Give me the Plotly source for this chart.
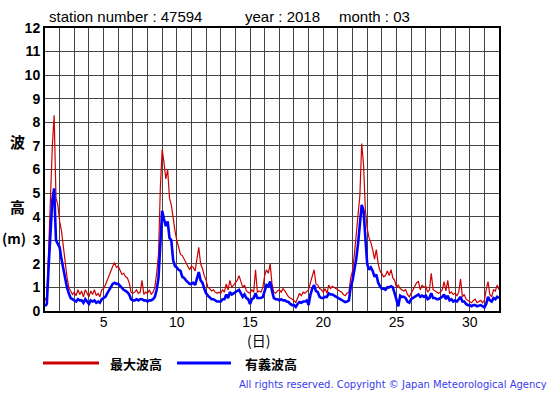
import plotly.graph_objects as go

# 3-hourly samples, day 1 00h .. day 32 00h (8 per day)
steps_per_day = 8

max_wave = [
    0.45, 0.6, 2.6, 4.9, 7.0, 8.3, 4.8, 4.5,      # day 1
    3.8, 3.4, 2.7, 2.1, 1.45, 1.0, 0.85, 0.7,      # day 2
    0.8, 0.65, 0.9, 0.7, 0.85, 0.6, 0.9, 0.75,     # day 3
    0.6, 0.85, 0.7, 0.9, 0.65, 0.75, 0.6, 0.9,     # day 4
    0.95, 1.1, 1.3, 1.5, 1.75, 1.9, 2.05, 1.85,    # day 5
    1.9, 1.7, 1.55, 1.6, 1.45, 1.4, 1.2, 0.8,      # day 6
    0.75, 0.8, 0.9, 0.75, 0.8, 1.3, 0.7, 0.8,      # day 7
    0.75, 0.9, 0.7, 0.8, 1.0, 1.6, 2.4, 5.2,       # day 8
    6.85, 6.3, 5.6, 6.0, 4.8, 4.5, 3.85, 3.4,      # day 9
    3.0, 2.7, 2.4, 2.35, 2.2, 2.0, 1.85, 1.75,     # day 10
    1.9, 1.85, 1.7, 2.2, 2.7, 2.0, 1.8, 1.5,       # day 11
    1.3, 1.0, 0.95, 0.85, 0.9, 0.8, 0.75, 0.8,     # day 12
    0.75, 0.9, 0.8, 1.15, 0.9, 1.3, 1.0, 1.1,      # day 13
    1.2, 1.3, 1.5, 1.2, 1.0, 1.1, 0.85, 0.8,       # day 14
    0.75, 0.9, 0.8, 1.75, 0.8, 0.85, 0.8, 1.0,     # day 15
    1.5, 1.75, 1.6, 2.0, 1.15, 0.8, 0.75, 0.85,    # day 16
    0.9, 0.8, 0.95, 0.85, 0.7, 0.6, 0.55, 0.5,     # day 17
    0.45, 0.35, 0.55, 0.75, 0.65, 0.8, 0.75, 0.85, # day 18
    0.9, 1.2, 1.45, 1.75, 1.15, 1.1, 0.95, 0.9,    # day 19
    0.8, 0.95, 0.75, 1.1, 0.95, 1.05, 1.0, 0.95,   # day 20
    0.9, 0.85, 0.8, 0.7, 0.65, 0.75, 0.8, 1.4,     # day 21
    1.7, 2.4, 3.2, 3.9, 4.9, 7.1, 6.2, 4.3,        # day 22
    3.5, 3.1, 2.9, 2.6, 2.2, 2.6, 2.0, 1.7,        # day 23
    1.6, 1.45, 1.5, 1.7, 1.5, 1.75, 1.4, 1.3,      # day 24
    1.0, 1.1, 0.95, 0.9, 0.85, 0.9, 0.7, 0.6,      # day 25
    0.75, 0.9, 1.0, 1.2, 1.25, 0.9, 1.1, 1.0,      # day 26
    1.05, 0.8, 0.9, 1.6, 0.9, 0.85, 0.8, 0.75,     # day 27
    0.8, 0.9, 1.25, 0.85, 1.3, 0.75, 0.8, 0.7,     # day 28
    0.75, 0.65, 0.8, 1.35, 0.6, 0.7, 0.5, 0.45,    # day 29
    0.4, 0.35, 0.45, 0.5, 0.35, 0.4, 0.45, 0.35,   # day 30
    0.45, 0.9, 1.25, 0.7, 0.6, 0.9, 0.85, 1.1,     # day 31
    0.9,                                           # day 32 00h
]

sig_wave = [
    0.2, 0.3, 1.9, 3.6, 4.7, 5.2, 3.0, 2.85,
    2.7, 2.2, 1.8, 1.3, 1.0, 0.75, 0.55, 0.5,
    0.45, 0.4, 0.5, 0.45, 0.45, 0.35, 0.5, 0.4,
    0.3, 0.45, 0.4, 0.45, 0.35, 0.4, 0.35, 0.5,
    0.55, 0.6, 0.75, 0.9, 1.05, 1.15, 1.2, 1.15,
    1.15, 1.05, 1.0, 0.9, 0.85, 0.8, 0.7, 0.5,
    0.45, 0.45, 0.5, 0.45, 0.5, 0.5, 0.45, 0.45,
    0.4, 0.45, 0.45, 0.5, 0.6, 0.9, 1.4, 3.1,
    4.25, 3.9, 3.6, 3.8, 3.1, 3.0, 2.15, 1.9,
    1.85, 1.75, 1.7, 1.45, 1.4, 1.3, 1.2, 1.15,
    1.15, 1.2, 1.1, 1.4, 1.65, 1.3, 1.2, 0.95,
    0.75, 0.65, 0.55, 0.5, 0.5, 0.45, 0.4, 0.4,
    0.4, 0.5, 0.5, 0.7, 0.55, 0.8, 0.7, 0.75,
    0.8, 0.85, 0.9, 0.75, 0.6, 0.7, 0.55, 0.5,
    0.3, 0.5, 0.55, 0.75, 0.55, 0.55, 0.55, 0.6,
    0.9, 1.1, 1.05, 1.25, 0.85, 0.55, 0.5, 0.5,
    0.45, 0.5, 0.45, 0.45, 0.4, 0.38, 0.3, 0.25,
    0.25, 0.17, 0.3, 0.38, 0.35, 0.4, 0.4, 0.45,
    0.25, 0.7, 0.95, 1.1, 0.85, 0.8, 0.6, 0.55,
    0.55, 0.6, 0.6, 0.75, 0.7, 0.7, 0.65, 0.6,
    0.55, 0.5, 0.45, 0.4, 0.38, 0.4, 0.45, 1.0,
    1.3, 1.75, 2.2, 2.85, 3.6, 4.5, 4.25, 3.0,
    2.0, 1.75, 1.85, 1.7, 1.45, 1.55, 1.2, 1.05,
    0.95, 0.95, 0.9, 1.0, 1.0, 1.05, 1.0, 0.75,
    0.45, 0.2, 0.65, 0.6, 0.6, 0.55, 0.4, 0.35,
    0.5, 0.55, 0.6, 0.65, 0.7, 0.6, 0.65, 0.6,
    0.65, 0.5, 0.55, 0.75, 0.55, 0.55, 0.5, 0.5,
    0.55, 0.6, 0.7, 0.5, 0.65, 0.45, 0.5, 0.4,
    0.45, 0.4, 0.5, 0.6, 0.4, 0.4, 0.3, 0.25,
    0.25, 0.2, 0.25, 0.25, 0.2, 0.22, 0.25, 0.2,
    0.15, 0.3, 0.6, 0.45, 0.4, 0.55, 0.5, 0.6,
    0.55,
]

x_tick_vals = list(range(1, 33))
x_tick_text = [str(d) if d % 5 == 0 else "" for d in x_tick_vals]
y_tick_vals = list(range(0, 13))

header_parts = ["station number : 47594", "year : 2018", "month : 03"]
legend_names = ["最大波高", "有義波高"]
copyright_text = "All rights reserved. Copyright © Japan Meteorological Agency"

t = [1 + i / steps_per_day for i in range(len(max_wave))]

RED = "#cc0000"
BLUE = "#0000ff"

fig = go.Figure()
fig.add_trace(go.Scatter(x=t, y=max_wave, mode="lines", name=legend_names[0],
                         line=dict(color=RED, width=1.2)))
fig.add_trace(go.Scatter(x=t, y=sig_wave, mode="lines", name=legend_names[1],
                         line=dict(color=BLUE, width=2.6)))

W, H = 555, 395
L, R, T, B = 45, 499, 28, 311


def px(xp):
    return (xp - L) / (R - L)


def py(yp):
    return (B - yp) / (B - T)


grid = "#444444"
fig.update_layout(
    width=W, height=H,
    margin=dict(l=L, r=W - R, t=T, b=H - B, pad=0),
    paper_bgcolor="white", plot_bgcolor="white",
    showlegend=False,
    font=dict(family="Liberation Sans, Arial, sans-serif", color="black"),
    xaxis=dict(range=[1, 32], tickvals=x_tick_vals, ticktext=x_tick_text,
               showgrid=True, gridcolor=grid, gridwidth=1,
               showline=True, linecolor="black", linewidth=2, mirror=True,
               ticks="", tickfont=dict(size=14, color="black"), zeroline=False,
               ticklabelstandoff=-3),
    yaxis=dict(range=[0, 12], tickvals=y_tick_vals,
               showgrid=True, gridcolor=grid, gridwidth=1,
               showline=True, linecolor="black", linewidth=2, mirror=True,
               ticks="", tickfont=dict(size=14, color="black",
                                       family="Liberation Sans, Arial, sans-serif",
                                       weight="bold"),
               zeroline=False),
)

ann = []
for txt, xpix in zip(header_parts, [47, 243, 337]):
    ann.append(dict(x=px(xpix), y=py(17), xref="paper", yref="paper", text=txt,
                    showarrow=False, xanchor="left", yanchor="middle",
                    font=dict(size=15, color="black")))
jp = "Noto Sans CJK JP"
for txt, xpix, ypix, sz in [("波", 17, 141, 15), ("高", 17, 206, 15), ("(m)", 14, 238, 14)]:
    ann.append(dict(x=px(xpix), y=py(ypix), xref="paper", yref="paper",
                    text=txt, showarrow=False, xanchor="center", yanchor="middle",
                    font=dict(size=sz, family=jp, color="black", weight="bold")))
ann.append(dict(x=px(258), y=py(340), xref="paper", yref="paper", text="(日)",
                showarrow=False, xanchor="center", yanchor="middle",
                font=dict(size=14, family=jp, color="black")))
ann.append(dict(x=px(108), y=py(363), xref="paper", yref="paper", text=legend_names[0],
                showarrow=False, xanchor="left", yanchor="middle",
                font=dict(size=13, family=jp, color="black", weight="bold")))
ann.append(dict(x=px(243), y=py(363), xref="paper", yref="paper", text=legend_names[1],
                showarrow=False, xanchor="left", yanchor="middle",
                font=dict(size=13, family=jp, color="black", weight="bold")))
ann.append(dict(x=px(549), y=py(384), xref="paper", yref="paper", text=copyright_text,
                showarrow=False, xanchor="right", yanchor="middle",
                font=dict(size=10, family="DejaVu Sans, sans-serif", color="#3a3af0")))
fig.update_layout(annotations=ann)

fig.add_shape(type="line", xref="paper", yref="paper", x0=px(43), x1=px(99),
              y0=py(363), y1=py(363), line=dict(color=RED, width=3))
fig.add_shape(type="line", xref="paper", yref="paper", x0=px(177), x1=px(231),
              y0=py(363), y1=py(363), line=dict(color=BLUE, width=3))

fig.write_html("out.html", config={"displayModeBar": False},
               post_script="document.body.style.margin='0';document.body.style.padding='0';")
